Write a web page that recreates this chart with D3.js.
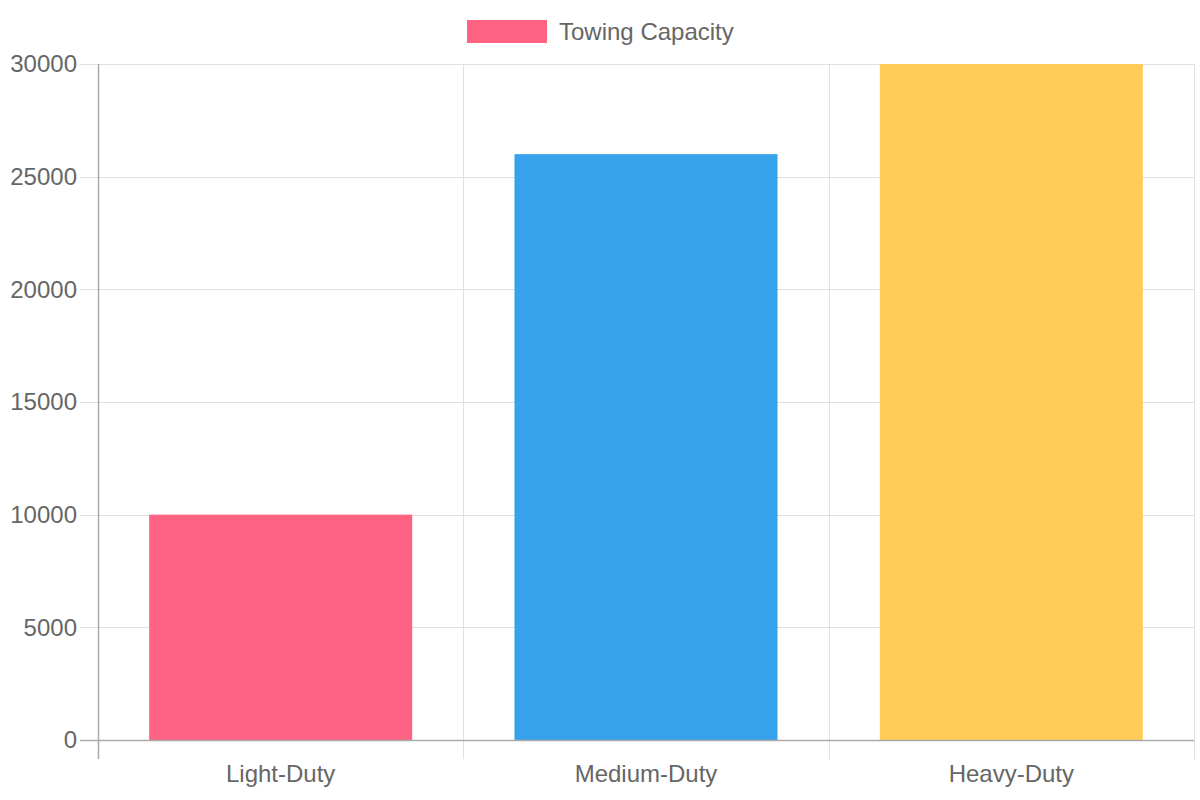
<!DOCTYPE html>
<html>
<head>
<meta charset="utf-8">
<script src="https://cdn.jsdelivr.net/npm/d3@7"></script>
<style>
  html, body { margin: 0; padding: 0; background: #fff; }
  text { font-family: "Liberation Sans", Arial, sans-serif; fill: #666; }
</style>
</head>
<body>
<div id="chart"></div>
<script>
var categories = ['Light-Duty', 'Medium-Duty', 'Heavy-Duty'];
var values = [10000, 26000, 30000];
var colors = ['#ff6384', '#36a2eb', '#ffcd56'];
var series_name = 'Towing Capacity';
var y_ticks = [0, 5000, 10000, 15000, 20000, 25000, 30000];

var margin = { top: 64, left: 98, right: 6, bottom: 60 };
var outer_width = 1200, outer_height = 800;
var width = outer_width - margin.left - margin.right;
var height = outer_height - margin.top - margin.bottom;

var sx = d3.scaleBand()
    .domain(categories)
    .range([0, width])
    .paddingInner(0)
    .paddingOuter(0);
var sy = d3.scaleLinear()
    .domain([0, 30000])
    .range([height, 0]);

var svg = d3.select('#chart').append('svg')
    .attr('width', outer_width)
    .attr('height', outer_height);

var g = svg.append('g')
    .attr('transform', 'translate(' + margin.left + ', ' + margin.top + ')');

// horizontal grid
g.append('g')
    .selectAll('line')
    .data(y_ticks)
    .enter().append('line')
    .attr('x1', -18)
    .attr('x2', width)
    .attr('y1', function(d) { return Math.round(sy(d)) + 0.5; })
    .attr('y2', function(d) { return Math.round(sy(d)) + 0.5; })
    .attr('stroke', '#e0e0e0')
    .attr('stroke-width', 1);

// vertical grid at category edges
var edges = categories.map(function(c) { return sx(c); }).concat([width]);
g.append('g')
    .selectAll('line')
    .data(edges)
    .enter().append('line')
    .attr('x1', function(d) { return Math.round(d) + 0.5; })
    .attr('x2', function(d) { return Math.round(d) + 0.5; })
    .attr('y1', 0)
    .attr('y2', height + 19)
    .attr('stroke', '#e0e0e0')
    .attr('stroke-width', 1);

// bars
var bar_w = sx.bandwidth() * 0.72;
g.selectAll('.bar')
    .data(values)
    .enter().append('rect')
    .attr('class', 'bar')
    .attr('x', function(d, i) { return sx(categories[i]) + (sx.bandwidth() - bar_w) / 2; })
    .attr('y', function(d) { return sy(d); })
    .attr('width', bar_w)
    .attr('height', function(d) { return height - sy(d); })
    .attr('fill', function(d, i) { return colors[i]; });

// axis lines
g.append('line')
    .attr('x1', 0.5).attr('x2', 0.5)
    .attr('y1', 0).attr('y2', height + 19)
    .attr('stroke', '#aaa').attr('stroke-width', 1.5);
g.append('line')
    .attr('x1', -18).attr('x2', width)
    .attr('y1', height + 0.5).attr('y2', height + 0.5)
    .attr('stroke', '#aaa').attr('stroke-width', 1.5);

// y tick labels
g.append('g')
    .selectAll('text')
    .data(y_ticks)
    .enter().append('text')
    .attr('x', -21)
    .attr('y', function(d) { return sy(d); })
    .attr('dy', '0.35em')
    .attr('text-anchor', 'end')
    .style('font-size', '24px')
    .text(function(d) { return d; });

// x tick labels
g.append('g')
    .selectAll('text')
    .data(categories)
    .enter().append('text')
    .attr('x', function(d) { return sx(d) + sx.bandwidth() / 2; })
    .attr('y', height + 34)
    .attr('dy', '0.35em')
    .attr('text-anchor', 'middle')
    .style('font-size', '24px')
    .text(function(d) { return d; });

// legend
var legend = svg.append('g').attr('class', 'legend');
legend.append('rect')
    .attr('x', 467)
    .attr('y', 20)
    .attr('width', 80)
    .attr('height', 23)
    .attr('fill', colors[0]);
legend.append('text')
    .attr('x', 559)
    .attr('y', 32)
    .attr('dy', '0.35em')
    .style('font-size', '24px')
    .text(series_name);
</script>
</body>
</html>
